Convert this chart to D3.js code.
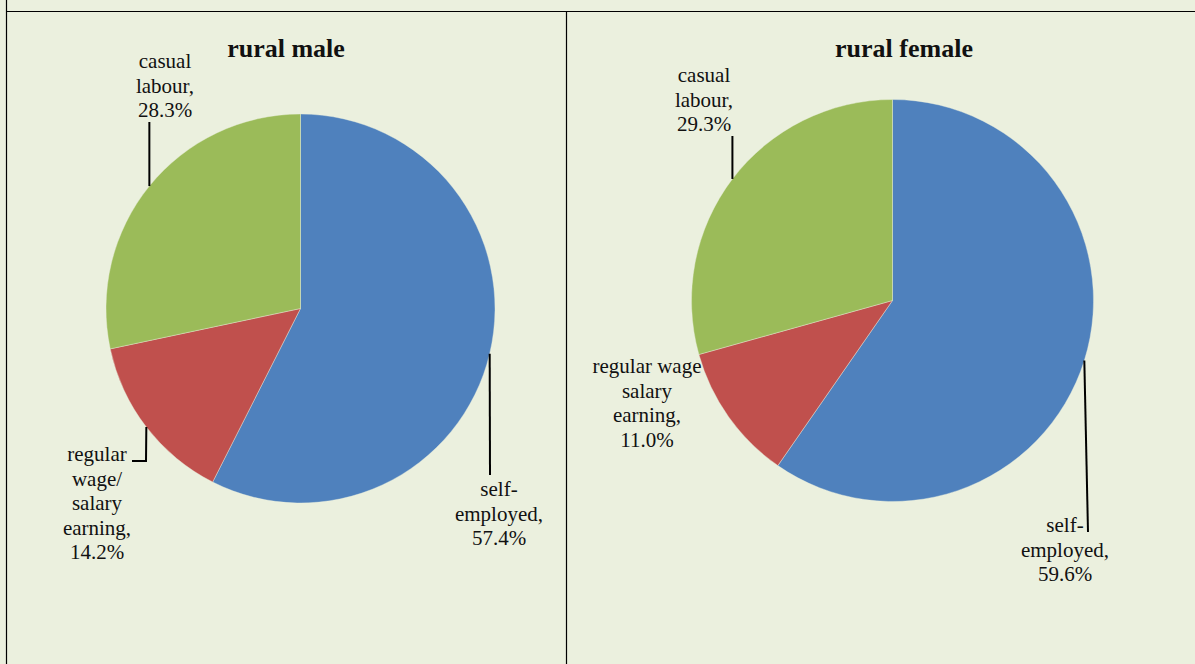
<!DOCTYPE html>
<html>
<head>
<meta charset="utf-8">
<script src="https://cdn.jsdelivr.net/npm/d3@7"></script>
<style>
  html, body { margin: 0; padding: 0; background: #ebf0de; }
  svg { display: block; }
  text { font-family: "Liberation Serif", "Times New Roman", serif; fill: #111; }
</style>
</head>
<body>
<svg id="chart" width="1195" height="664"></svg>
<script>

// data
let categories = ["self-employed", "regular wage/salary earning", "casual labour"];
let colors = ["#4f81bd", "#c0504d", "#9bbb59"];

let male_values = [57.4, 14.2, 28.3];
let female_values = [59.6, 11.0, 29.3];

let male_label_lines = [["self-", "employed,"], ["regular", "wage/", "salary", "earning,"], ["casual", "labour,"]];
let female_label_lines = [["self-", "employed,"], ["regular wage", "salary", "earning,"], ["casual", "labour,"]];

let titles = ["rural male", "rural female"];

// layout of the two panels
let panels = [
    {
	values: male_values, lines: male_label_lines, title: titles[0],
	cx: 300.5, cy: 308.5, r: 194.5, tx: 286, ty: 57,
	labels: [
	    {x: 499, y: 496, leader: [[490, 475]]},
	    {x: 97, y: 461, leader: [[146, 461], [132, 461]]},
	    {x: 165, y: 68, leader: [[null, 122]]}
	]
    },
    {
	values: female_values, lines: female_label_lines, title: titles[1],
	cx: 892.5, cy: 300.5, r: 201, tx: 904, ty: 57,
	labels: [
	    {x: 1065, y: 532, leader: [[1088, 532]]},
	    {x: 647, y: 373, leader: null},
	    {x: 704, y: 82, leader: [[null, 136]]}
	]
    }
];

let svg = d3.select("#chart");
let lineHeight = 24.5;

// table borders
svg.append("line").attr("x1", 6).attr("x2", 1195).attr("y1", 11.5).attr("y2", 11.5)
    .attr("stroke", "#000").attr("stroke-width", 1.2);
svg.append("line").attr("x1", 6.5).attr("x2", 6.5).attr("y1", 0).attr("y2", 664)
    .attr("stroke", "#000").attr("stroke-width", 1.2);
svg.append("line").attr("x1", 566.5).attr("x2", 566.5).attr("y1", 11.5).attr("y2", 664)
    .attr("stroke", "#000").attr("stroke-width", 1.2);

let pie = d3.pie().sort(null).value(d => d);

function draw_pie(p){

    let arcs = pie(p.values);
    let arc = d3.arc().innerRadius(0).outerRadius(p.r);

    let g = svg.append("g")
	.attr("transform", "translate(" + p.cx + "," + p.cy + ")");

    g.selectAll("path")
	.data(arcs)
	.enter().append("path")
	.attr("d", arc)
	.style("fill", (d, i) => colors[i])
	.attr("stroke", "#ebf0de")
	.attr("stroke-width", 0.4)
	.append("title").text((d, i) => categories[i] + ": " + d.data.toFixed(1) + "%");

    // title
    svg.append("text")
	.attr("x", p.tx)
	.attr("y", p.ty)
	.style("text-anchor", "middle")
	.style("font-size", "26px")
	.style("font-weight", "bold")
	.text(p.title);

    // data labels with leader lines starting at the slice's mid angle on the rim
    arcs.forEach(function(d, i){
	let lab = p.labels[i];
	let mid = (d.startAngle + d.endAngle) / 2;
	let ex = p.cx + p.r * Math.sin(mid);
	let ey = p.cy - p.r * Math.cos(mid);

	if (lab.leader){
	    let pts = [[ex, ey]];
	    lab.leader.forEach(q => pts.push([q[0] === null ? ex : q[0], q[1]]));
	    svg.append("path")
		.attr("d", d3.line()(pts))
		.attr("fill", "none")
		.attr("stroke", "#000")
		.attr("stroke-width", 2);
	};

	let lines = p.lines[i].concat([d.data.toFixed(1) + "%"]);
	let t = svg.append("text")
	    .style("text-anchor", "middle")
	    .style("font-size", "21px");
	lines.forEach(function(s, k){
	    t.append("tspan")
		.attr("x", lab.x)
		.attr("y", lab.y + k * lineHeight)
		.text(s);
	});
    });
};

panels.forEach(draw_pie);

</script>
</body>
</html>
